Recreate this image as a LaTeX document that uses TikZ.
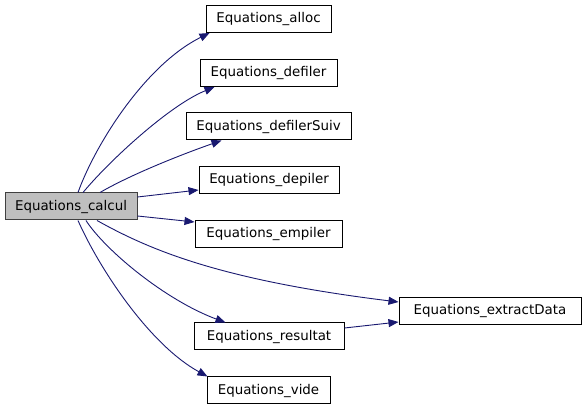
\documentclass[tikz,border=0pt]{standalone}
\usepackage{fontspec}
\setmainfont{DejaVu Sans}
\usetikzlibrary{arrows.meta}
\definecolor{edgeblue}{HTML}{191970}
\definecolor{boxgray}{HTML}{BFBFBF}
\definecolor{boxline}{HTML}{404040}
\tikzset{
  fn/.style={rectangle, draw=black, fill=white, line width=1pt,
    minimum height=27pt, inner sep=0pt, font=\fontsize{13.4}{16}\selectfont},
  calls/.style={draw=edgeblue, line width=0.9pt,
    -{Triangle[length=10pt,width=8pt]}},
}
\begin{document}
\begin{tikzpicture}[x=1pt,y=-1pt]
\useasboundingbox (0,0) rectangle (587,411);

% caller
\node[fn, fill=boxgray, draw=boxline, minimum width=132pt] (calcul) at (71,206.5) {Equations\_calcul};

% callees
\node[fn, minimum width=125pt] (alloc) at (268.5,19) {Equations\_alloc};
\node[fn, minimum width=137pt] (defiler) at (268.5,73) {Equations\_defiler};
\node[fn, minimum width=165pt] (defilerSuiv) at (268.5,126.5) {Equations\_defilerSuiv};
\node[fn, minimum width=140pt] (depiler) at (269,180) {Equations\_depiler};
\node[fn, minimum width=147pt] (empiler) at (268.5,234) {Equations\_empiler};
\node[fn, minimum width=182pt] (extractData) at (490,311) {Equations\_extractData};
\node[fn, minimum width=150pt] (resultat) at (269,336.5) {Equations\_resultat};
\node[fn, minimum width=123pt] (vide) at (268.5,390.5) {Equations\_vide};

% calls
\draw[calls] ([xshift=7pt]calcul.north) .. controls (95,145) and (145,65) .. ([xshift=4pt]alloc.south west);
\draw[calls] ([xshift=12pt]calcul.north) .. controls (110,160) and (170,105) .. ([xshift=15pt]defiler.south west);
\draw[calls] ([xshift=29pt]calcul.north) .. controls (130,175) and (180,155) .. ([xshift=36pt]defilerSuiv.south west);
\draw[calls] ([yshift=9.5pt]calcul.east) -- ([yshift=-10pt]depiler.west);
\draw[calls] ([yshift=-9.5pt]calcul.east) -- ([yshift=12pt]empiler.west);
\draw[calls] ([xshift=26pt]calcul.south) .. controls (150,250) and (220,280) .. ([yshift=9pt]extractData.west);
\draw[calls] ([xshift=15pt]calcul.south) .. controls (105,250) and (165,300) .. ([xshift=32pt]resultat.north west);
\draw[calls] ([xshift=7pt]calcul.south) .. controls (100,270) and (150,345) .. ([xshift=1pt]vide.north west);
\draw[calls] ([yshift=8.5pt]resultat.east) -- ([yshift=-11pt]extractData.west);
\end{tikzpicture}
\end{document}
